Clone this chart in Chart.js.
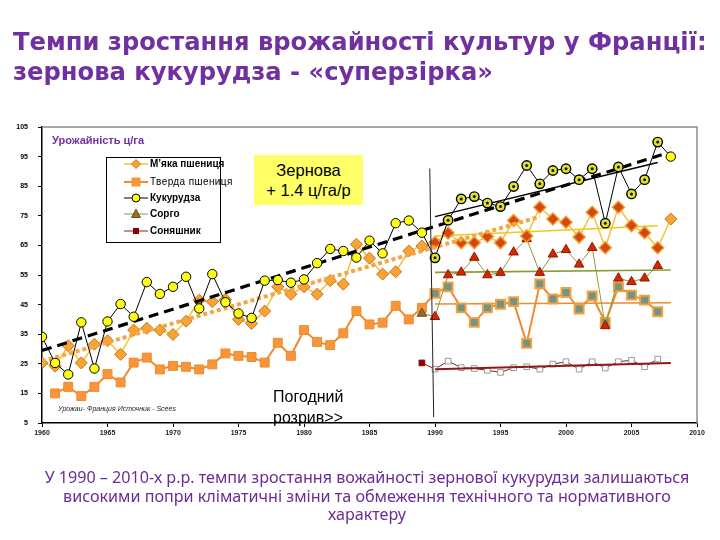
<!DOCTYPE html>
<html><head><meta charset="utf-8">
<script src="https://cdn.jsdelivr.net/npm/chart.js@4.4.1/dist/chart.umd.min.js"></script>
<style>
html,body{margin:0;padding:0;background:#fff;}
#wrap{position:relative;width:720px;height:540px;overflow:hidden;background:#fff;}
#c{position:absolute;left:0;top:0;}
.t{position:absolute;white-space:nowrap;}
#title{left:13px;top:27px;color:#7030A0;font-family:"DejaVu Sans";font-weight:bold;font-size:21px;line-height:30px;}
#title span{display:block;}
#caption{left:0;width:734px;top:468px;text-align:center;color:#6A2C96;font-family:"Noto Sans";font-size:14px;line-height:18.5px;}
#caption span{display:inline-block;}
#ylab{left:52px;top:134px;color:#7030A0;font-family:"Liberation Sans";font-weight:bold;font-size:11px;}
#zbox{left:254px;top:155px;width:109px;height:50px;background:#FFFF66;font-family:"Liberation Sans";font-size:16.5px;text-align:center;line-height:20px;padding-top:5px;box-sizing:border-box;}
#pog{left:273px;top:386px;font-family:"Liberation Sans";font-size:16px;line-height:21px;color:#000;}
#src{left:58px;top:405px;font-family:"Liberation Sans";font-style:italic;font-size:7px;color:#222;}
#legend{left:106px;top:157px;width:115px;height:86px;border:1px solid #000;background:#fff;box-sizing:border-box;font-family:"Liberation Sans";font-size:10px;}
.li{position:absolute;left:0;height:16px;width:114px;}
.li svg{position:absolute;left:15px;top:0;}
.li span{position:absolute;left:43px;top:2px;font-weight:bold;}
</style></head>
<body>
<div id="wrap">
<canvas id="c" width="720" height="540"></canvas>
<div id="title" class="t"><span id="t1">Темпи зростання врожайності культур у Франції:</span><span id="t2">зернова кукурудза - «суперзірка»</span></div>
<div id="ylab" class="t">Урожайність ц/га</div>
<div id="zbox" class="t">Зернова<br>+ 1.4 ц/га/р</div>
<div id="pog" class="t">Погодний<br>розрив&gt;&gt;</div>
<div id="src" class="t">Урожаи- Франция Источник - Scees</div>
<div id="legend" class="t"></div>
<div id="caption" class="t"><span id="c1">У 1990 – 2010-х р.р. темпи зростання вожайності зернової кукурудзи залишаються</span><br><span id="c2">високими попри кліматичні зміни та обмеження технічного та нормативного</span><br><span id="c3">характеру</span></div>
</div>
<script>
// ---------- DATA ----------
const yearsMain = [1960,1961,1962,1963,1964,1965,1966,1967,1968,1969,1970,1971,1972,1973,1974,1975,1976,1977,1978,1979,1980,1981,1982,1983,1984,1985,1986,1987,1988,1989,1990,1991,1992,1993,1994,1995,1996,1997,1998,1999,2000,2001,2002,2003,2004,2005,2006,2007,2008];
const maize = [34.1,25.3,21.4,39.0,23.4,39.3,45.2,40.9,52.6,48.6,51.0,54.4,43.7,55.3,45.8,42.0,40.5,53.1,53.3,52.4,53.5,59.0,63.8,63.1,60.9,66.6,62.3,72.5,73.4,69.3,60.8,73.5,80.7,81.5,79.3,78.1,84.9,92.0,85.8,90.3,90.9,87.2,90.9,72.5,91.5,82.4,87.2,99.9,95.0];
const softWheat = [25.3,24.2,31.1,25.3,31.6,32.8,28.2,36.4,37.0,36.4,34.9,39.4,46.5,46.0,46.8,40.0,38.6,42.8,51.0,48.5,51.0,48.5,53.1,51.9,65.4,60.7,55.3,56.1,63.1,64.8,66.0,69.2,65.9,65.9,68.0,65.9,73.4,68.2,77.9,73.9,72.8,67.8,76.2,64.2,77.9,71.7,69.3,64.2,73.9];
const yearsDurum = [1961,1962,1963,1964,1965,1966,1967,1968,1969,1970,1971,1972,1973,1974,1975,1976,1977,1978,1979,1980,1981,1982,1983,1984,1985,1986,1987,1988,1989,1990,1991,1992,1993,1994,1995,1996,1997,1998,1999,2000,2001,2002,2003,2004,2005,2006,2007];
const durumWheat = [15.0,17.2,14.1,17.2,21.5,18.7,25.4,27.1,23.1,24.3,24.0,23.1,24.8,28.5,27.7,27.3,25.4,32.1,27.7,36.4,32.4,31.3,35.3,42.8,38.3,38.9,44.6,40.0,43.9,48.8,51.0,43.9,39.0,43.9,45.1,46.0,31.9,52.0,46.9,49.1,43.5,47.9,39.0,51.0,48.2,46.5,42.6];
const yearsLate = [1989,1990,1991,1992,1993,1994,1995,1996,1997,1998,1999,2000,2001,2002,2003,2004,2005,2006,2007];
const sorghum = [42.0,40.9,55.0,55.9,60.9,55.0,55.8,62.7,67.2,55.8,62.0,63.5,58.6,64.2,37.8,53.9,52.7,53.9,58.1];
const sunflower = [25.3,23.2,25.9,23.7,23.4,22.8,22.1,23.7,24.0,23.2,24.9,25.7,23.2,25.7,23.6,25.7,26.2,24.0,26.6];
// trend lines (endpoints)
const maizeTrendX = [1960, 2007.3], maizeTrendY = [29.5, 95.6];
const maizeTrend2X = [1990, 2007], maizeTrend2Y = [74.7, 93.0];
const softTrendX = [1960, 1998], softTrendY = [25.8, 74.7];
const softTrend2X = [1990, 2007], softTrend2Y = [68.2, 71.6];
const sorghumTrendX = [1990, 2008], sorghumTrendY = [55.9, 56.7];
const durumTrendX = [1990, 2008], durumTrendY = [45.2, 45.6];
const sunTrendX = [1990, 2008], sunTrendY = [23.2, 25.3];
const breakX = [1989.6, 1989.9], breakY = [91.0, 7.0];
const legendLabels = ['М’яка пшениця','Тверда пшениця','Кукурудза','Сорго','Соняшник'];
const xTicks = [1960,1965,1970,1975,1980,1985,1990,1995,2000,2005,2010];
const yTicks = [5,15,25,35,45,55,65,75,85,95,105];

// ---------- helpers ----------
const XY = (xs, ys) => xs.map((x, i) => ({x: x, y: ys[i]}));
const yr = c => (c.raw ? c.raw.x : 0);
const post = c => yr(c) >= 1990 && yr(c) <= 2007;

const trend = (xs, ys, color, width, dash, order) => ({
  data: XY(xs, ys), borderColor: color, borderWidth: width, borderDash: dash || [],
  pointRadius: 0, showLine: true, fill: false, tension: 0, order: order
});

const maizeXY = XY(yearsMain, maize);
const datasets = [
  trend(breakX, breakY, '#222', 1, [], 0),
  // maize
  {data: maizeXY.filter(p => p.x >= 1990 && p.x <= 2007), showLine: false, pointRadius: 1.5,
   pointBackgroundColor: '#111', pointBorderWidth: 0, order: 1},
  {data: maizeXY, borderColor: '#000', borderWidth: 1, pointRadius: 4.7,
   pointBackgroundColor: c => post(c) ? '#E2E22A' : '#FFFF14', pointBorderColor: '#000',
   pointBorderWidth: c => post(c) ? 1.4 : 1, order: 2},
  trend(maizeTrendX, maizeTrendY, '#000', 3.2, [10, 6], 3),
  trend(maizeTrend2X, maizeTrend2Y, '#000', 1.4, [], 3),
  // soft wheat
  {data: XY(yearsMain, softWheat), borderColor: '#F7C234', borderWidth: 1.5, pointStyle: 'rectRot', pointRadius: 6,
   pointBackgroundColor: c => post(c) ? '#D2480F' : '#F7A436',
   pointBorderColor: c => post(c) ? '#F39A2E' : '#D0701A', pointBorderWidth: c => post(c) ? 1.5 : 1, order: 4},
  trend(softTrendX, softTrendY, '#F7A540', 4, [4, 3], 3.5),
  trend(softTrend2X, softTrend2Y, '#F5C518', 1.5, [], 5),
  // durum wheat
  {data: XY(yearsDurum, durumWheat), borderColor: '#F08A2C', borderWidth: 2, pointStyle: 'rect', pointRadius: 6.3,
   pointBackgroundColor: c => post(c) ? '#6F9585' : '#F7953A',
   pointBorderColor: c => post(c) ? '#F5A040' : '#F08A2C', pointBorderWidth: c => post(c) ? 2 : 1, order: 6},
  trend(durumTrendX, durumTrendY, '#F08A2C', 1.6, [], 7),
  // sorghum
  {data: XY(yearsLate, sorghum), borderColor: '#8C9A36', borderWidth: 1, pointStyle: 'triangle', pointRadius: 5.5,
   pointBackgroundColor: c => yr(c) < 1990 ? '#9A6A2A' : '#CC2A00',
   pointBorderColor: c => yr(c) < 1990 ? '#6A5020' : '#A01000', pointBorderWidth: 1, order: 5},
  trend(sorghumTrendX, sorghumTrendY, '#8C9A36', 1.6, [], 7),
  // sunflower
  {data: XY(yearsLate, sunflower), borderColor: '#8B1A1A', borderWidth: 1, pointStyle: 'rect', pointRadius: 4,
   pointBackgroundColor: c => yr(c) < 1990 ? '#8B0000' : '#FFFFFF',
   pointBorderColor: c => yr(c) < 1990 ? '#8B0000' : '#9A9A9A', pointBorderWidth: 1, order: 8},
  trend(sunTrendX, sunTrendY, '#8B1A1A', 2, [], 7)
];

const framePlugin = {
  id: 'frame',
  afterDraw(chart) {
    const a = chart.chartArea, ctx = chart.ctx;
    ctx.save();
    ctx.strokeStyle = '#8a8a8a'; ctx.lineWidth = 1.5;
    ctx.beginPath();
    ctx.moveTo(a.left, a.top); ctx.lineTo(a.right, a.top); ctx.lineTo(a.right, a.bottom);
    ctx.stroke();
    ctx.restore();
  }
};

const tickFont = {family: 'Liberation Sans', size: 7, weight: 'bold'};
new Chart(document.getElementById('c'), {
  type: 'line',
  data: {datasets: datasets},
  plugins: [framePlugin],
  options: {
    responsive: false, animation: false, events: [],
    layout: {padding: {left: 0, top: 127, right: 23, bottom: 97}},
    plugins: {legend: {display: false}, tooltip: {enabled: false}, title: {display: false}},
    scales: {
      x: {type: 'linear', min: xTicks[0], max: xTicks[xTicks.length - 1],
          afterFit: s => { s.height = 20; },
          afterBuildTicks: s => { s.ticks = xTicks.map(v => ({value: v})); },
          ticks: {font: tickFont, color: '#222', padding: 2, maxRotation: 0, autoSkip: false,
                  callback: v => String(v)},
          grid: {drawOnChartArea: false, drawTicks: true, tickLength: 4, color: '#000'},
          border: {color: '#000', width: 1.5}},
      y: {type: 'linear', min: yTicks[0], max: yTicks[yTicks.length - 1],
          afterFit: s => { s.width = 42; },
          afterBuildTicks: s => { s.ticks = yTicks.map(v => ({value: v})); },
          ticks: {font: tickFont, color: '#000', padding: 10, autoSkip: false, callback: v => String(v)},
          grid: {drawOnChartArea: false, drawTicks: true, tickLength: 4, color: '#000'},
          border: {color: '#000', width: 1.5}}
    }
  }
});

// ---------- legend (HTML) ----------
const legendSym = [
  '<line x1="2" y1="8" x2="26" y2="8" stroke="#F7C234" stroke-width="1.5"/><polygon points="14,3.5 18.5,8 14,12.5 9.5,8" fill="#F7A436" stroke="#D0701A"/>',
  '<line x1="2" y1="8" x2="26" y2="8" stroke="#F08A2C" stroke-width="2"/><rect x="9.5" y="3.5" width="9" height="9" fill="#F7953A"/>',
  '<line x1="2" y1="8" x2="26" y2="8" stroke="#000" stroke-width="1"/><circle cx="14" cy="8" r="4" fill="#FFFF14" stroke="#000"/>',
  '<line x1="2" y1="8" x2="26" y2="8" stroke="#8C9A36" stroke-width="1"/><polygon points="14,3 18.5,11.5 9.5,11.5" fill="#9A6A2A" stroke="#6A5020"/>',
  '<line x1="2" y1="8" x2="26" y2="8" stroke="#8B1A1A" stroke-width="1"/><rect x="11" y="5" width="6" height="6" fill="#8B0000"/>'
];
const legendTop = [-2, 16, 32, 48, 65];
const lg = document.getElementById('legend');
legendLabels.forEach((lab, i) => {
  const d = document.createElement('div');
  d.className = 'li'; d.style.top = legendTop[i] + 'px';
  d.innerHTML = '<svg width="28" height="16">' + legendSym[i] + '</svg><span' +
    (i === 1 ? ' style="font-weight:normal;letter-spacing:0.4px"' : '') + '>' + lab + '</span>';
  lg.appendChild(d);
});

// ---------- fit text widths ----------
function fit(el, w) {
  const fs = parseFloat(getComputedStyle(el).fontSize);
  const cur = el.getBoundingClientRect().width;
  return fs * w / cur;
}
const t1 = document.getElementById('t1');
t1.style.display = 'inline-block';
document.getElementById('title').style.fontSize = fit(t1, 694) + 'px';
t1.style.display = 'block';
const c1 = document.getElementById('c1');
document.getElementById('caption').style.fontSize = fit(c1, 645) + 'px';
</script>
</body></html>
